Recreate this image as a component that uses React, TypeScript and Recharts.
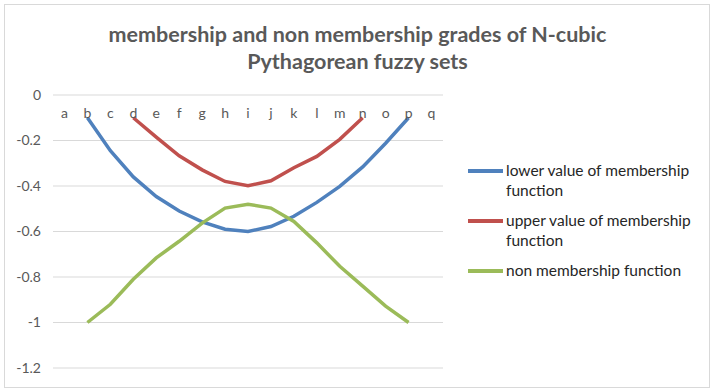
import { LineChart, Line, XAxis, YAxis, CartesianGrid } from "recharts";

// categories along the x axis
const CATEGORIES = ["a", "b", "c", "d", "e", "f", "g", "h", "i", "j", "k", "l", "m", "n", "o", "p", "q"];

// series values (null = no point)
const LOWER = [null, -0.1, -0.245, -0.36, -0.446, -0.51, -0.558, -0.59, -0.6, -0.578, -0.533, -0.472, -0.402, -0.316, -0.212, -0.1, null];
const UPPER = [null, null, null, -0.1, -0.185, -0.267, -0.329, -0.38, -0.399, -0.377, -0.32, -0.27, -0.195, -0.1, null, null, null];
const NON = [null, -1, -0.92, -0.81, -0.716, -0.643, -0.563, -0.497, -0.48, -0.497, -0.556, -0.65, -0.753, -0.84, -0.928, -1, null];

const Y_TICKS = [0, -0.2, -0.4, -0.6, -0.8, -1, -1.2];

const SERIES = [
  { key: "lower", name: "lower value of membership function", color: "#4F81BD" },
  { key: "upper", name: "upper value of membership function", color: "#C0504D" },
  { key: "non", name: "non membership function", color: "#9BBB59" },
];

const data = CATEGORIES.map((c, i) => ({
  cat: c,
  lower: LOWER[i],
  upper: UPPER[i],
  non: NON[i],
}));

const FONT = "Lato, 'Open Sans', sans-serif";

// category labels sit just below the 0 gridline, like Excel's "next to axis"
function CatTick(props: any) {
  const { x, y, payload } = props;
  return (
    <text x={x} y={y + 31} textAnchor="middle" fill="#595959" fontSize={14} fontFamily={FONT}>
      {payload.value}
    </text>
  );
}

function SideLegend() {
  return (
    <div style={{ fontFamily: FONT, fontSize: 15.5, color: "#262626", lineHeight: "20px" }}>
      {SERIES.map((s) => (
        <div key={s.key} style={{ display: "flex", alignItems: "flex-start", marginBottom: 10 }}>
          <div style={{ width: 35, height: 3.5, background: s.color, marginTop: 9, marginRight: 3, flexShrink: 0 }} />
          <div style={{ width: 200 }}>{s.name}</div>
        </div>
      ))}
    </div>
  );
}

export default function App() {
  return (
    <div style={{ position: "absolute", left: 0, top: 0, width: 715, height: 392, background: "#fff" }}>
      <div
        style={{
          position: "absolute", left: 4, top: 4, width: 706, height: 384,
          border: "1px solid #d9d9d9", boxSizing: "border-box",
        }}
      />
      <div
        style={{
          position: "absolute", left: 0, top: 21, width: 715, textAlign: "center",
          fontFamily: FONT, fontWeight: 700, fontSize: 21.5, lineHeight: "27px", color: "#595959",
        }}
      >
        membership and non membership grades of N-cubic
        <br />
        Pythagorean fuzzy sets
      </div>
      <div style={{ position: "absolute", left: 468, top: 160, width: 240 }}>
        <SideLegend />
      </div>
      <LineChart
        width={715}
        height={392}
        data={data}
        margin={{ top: 85, right: 272, bottom: 24, left: 0 }}
        style={{ position: "absolute", left: 0, top: 0 }}
      >
        <CartesianGrid vertical={false} stroke="#d9d9d9" strokeWidth={1} />
        <XAxis
          dataKey="cat"
          orientation="top"
          height={10}
          axisLine={false}
          tickLine={false}
          interval={0}
          padding={{ left: 11.5, right: 11.5 }}
          tick={<CatTick />}
        />
        <YAxis
          domain={[-1.2, 0]}
          ticks={Y_TICKS}
          width={53}
          axisLine={false}
          tickLine={false}
          tickMargin={6}
          tick={{ fill: "#595959", fontSize: 14, fontFamily: FONT }}
        />
        {SERIES.map((s) => (
          <Line
            key={s.key}
            type="linear"
            dataKey={s.key}
            name={s.name}
            stroke={s.color}
            strokeWidth={3.5}
            dot={false}
            isAnimationActive={false}
          />
        ))}
      </LineChart>
    </div>
  );
}
